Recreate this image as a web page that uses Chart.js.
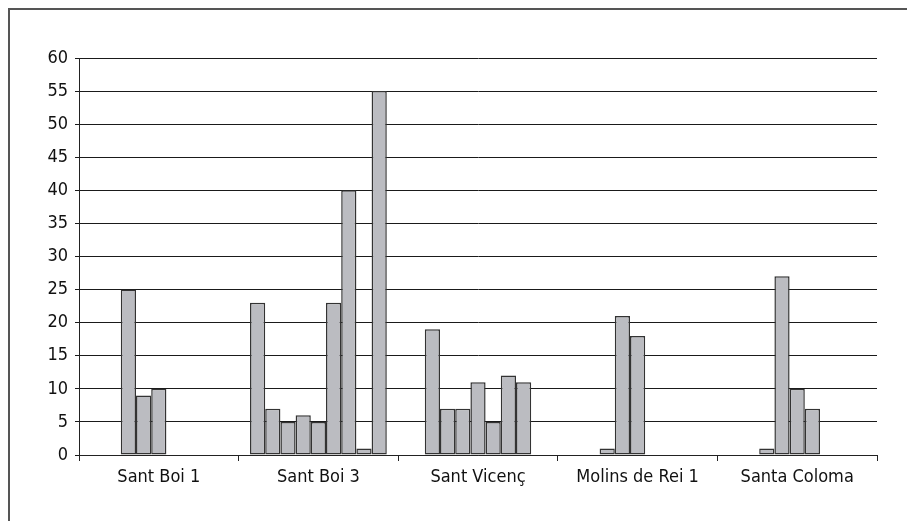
<!DOCTYPE html>
<html>
<head>
<meta charset="utf-8">
<script src="https://cdn.jsdelivr.net/npm/chart.js@4"></script>
<style>
  html, body { margin: 0; padding: 0; background: #fff; }
  #wrap { position: relative; width: 907px; height: 521px; }
</style>
</head>
<body>
<div id="wrap"><canvas id="myChart" width="907" height="521"></canvas></div>
<script>
const categories = ['Sant Boi 1', 'Sant Boi 3', 'Sant Vicenç', 'Molins de Rei 1', 'Santa Coloma'];
const yTicks = [0, 5, 10, 15, 20, 25, 30, 35, 40, 45, 50, 55, 60];

// one array per series slot, values per category
const s1 = [null, 23, null, null, null];
const s2 = [null, 7, 19, null, null];
const s3 = [25, 5, 7, 1, 1];
const s4 = [9, 6, 7, 21, 27];
const s5 = [10, 5, 11, 18, 10];
const s6 = [null, 23, 5, null, 7];
const s7 = [null, 40, 12, null, null];
const s8 = [null, 1, 11, null, null];
const s9 = [null, 55, null, null, null];

const seriesList = [s1, s2, s3, s4, s5, s6, s7, s8, s9];
const FONT = "'Liberation Sans Narrow', 'DejaVu Sans Condensed', Arial, sans-serif";

const framePlugin = {
    id: 'frame',
    beforeDraw(chart) {
        const ctx = chart.ctx;
        ctx.save();
        ctx.strokeStyle = '#555';
        ctx.lineWidth = 2;
        ctx.beginPath();
        ctx.moveTo(9, 530);
        ctx.lineTo(9, 9);
        ctx.lineTo(920, 9);
        ctx.stroke();
        ctx.restore();
    }
};

const chartRef = document.getElementById('myChart');
new Chart(chartRef, {
    type: 'bar',
    data: {
        labels: categories,
        datasets: seriesList.map((vals, i) => ({
            label: 'Serie ' + (i + 1),
            data: vals,
            backgroundColor: '#bbbcc1',
            borderColor: '#333',
            borderWidth: 1.5,
            borderSkipped: false,
            categoryPercentage: 0.857,
            barPercentage: 1.0
        }))
    },
    options: {
        responsive: false,
        animation: false,
        layout: { padding: { left: 0, right: 30, top: 58, bottom: 30 } },
        plugins: {
            legend: { display: false },
            tooltip: { enabled: false }
        },
        scales: {
            x: {
                grid: {
                    offset: true,
                    drawOnChartArea: false,
                    drawTicks: true,
                    tickLength: 6,
                    color: '#222'
                },
                border: { color: '#222', width: 1 },
                ticks: {
                    color: '#111',
                    padding: 6,
                    font: { family: FONT, size: 18 }
                },
                afterFit: (scale) => { scale.height = 36; }
            },
            y: {
                min: 0,
                max: 60,
                afterBuildTicks: (scale) => { scale.ticks = yTicks.map(v => ({ value: v })); },
                grid: {
                    color: '#1a1a1a',
                    lineWidth: 1,
                    drawTicks: true,
                    tickLength: 4
                },
                border: { color: '#222', width: 1 },
                ticks: {
                    color: '#111',
                    padding: 7,
                    font: { family: FONT, size: 18 }
                },
                afterFit: (scale) => { scale.width = 79; }
            }
        }
    },
    plugins: [framePlugin]
});
</script>
</body>
</html>
